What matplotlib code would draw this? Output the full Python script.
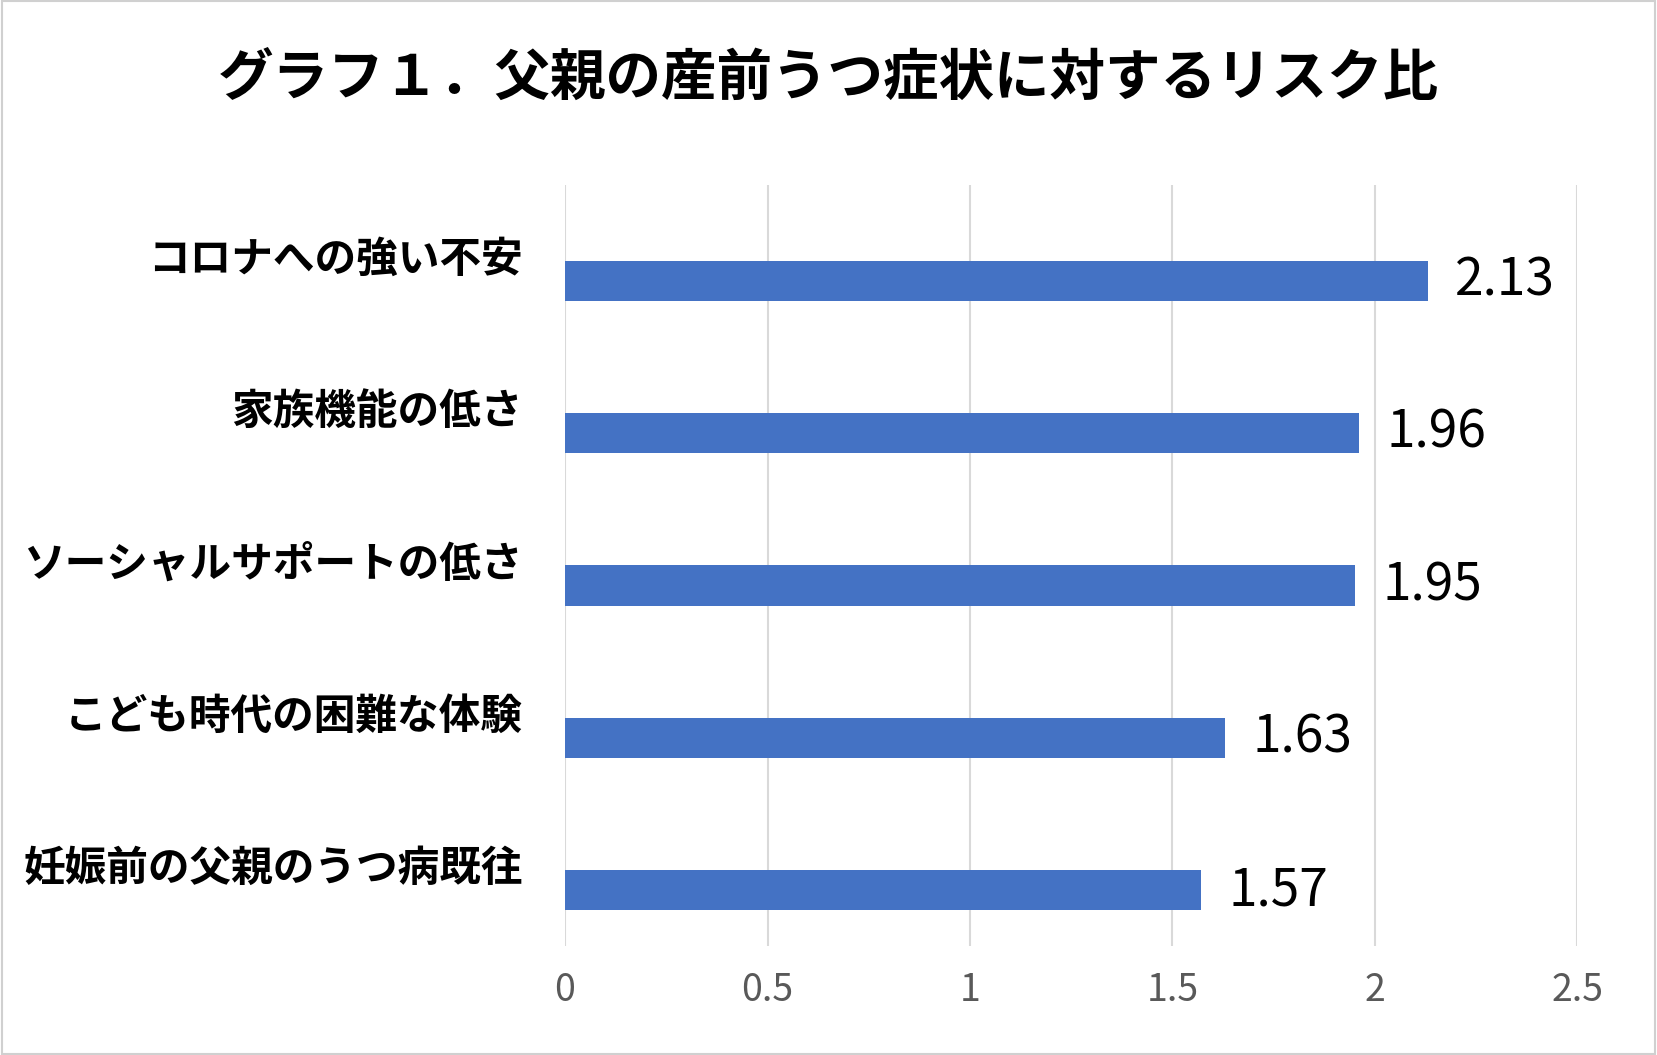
import matplotlib
matplotlib.use("Agg")
import matplotlib.pyplot as plt
from matplotlib.patches import Rectangle

plt.rcParams['font.family'] = ['Noto Sans CJK JP', 'DejaVu Sans']

categories = ["コロナへの強い不安", "家族機能の低さ", "ソーシャルサポートの低さ", "こども時代の困難な体験", "妊娠前の父親のうつ病既往"]
values = [2.13, 1.96, 1.95, 1.63, 1.57]
ticks = [0, 0.5, 1, 1.5, 2, 2.5]
tick_labels = ["0", "0.5", "1", "1.5", "2", "2.5"]
title = "グラフ１．父親の産前うつ症状に対するリスク比"

fig = plt.figure(figsize=(16.57, 10.55), dpi=100)
fig.patches.append(Rectangle((0.001, 0.001), 0.998, 0.998, transform=fig.transFigure,
                             fill=False, edgecolor="#d0d0d0", linewidth=1.5))
ax = fig.add_axes([0.341, 0.103, 0.611, 0.722])
ys = list(range(len(categories)))
ax.barh(ys, values, height=0.264, color="#4472C4", zorder=3)
ax.set_xlim(0, 2.5)
ax.set_ylim(4.368, -0.632)
ax.set_xticks(ticks)
ax.set_xticklabels(tick_labels, fontsize=27, color="#595959")
ax.set_yticks([])
ax.tick_params(axis='x', length=0, pad=18)
ax.grid(axis='x', color="#d9d9d9", linewidth=1.5, zorder=0)
for s in ax.spines.values():
    s.set_visible(False)
for y, c, v in zip(ys, categories, values):
    ax.text(-0.042, y - 0.14, c, transform=ax.get_yaxis_transform(), ha='right', va='center',
            fontsize=30, fontweight='bold')
    ax.annotate(f"{v:.2f}", (v, y), xytext=(20, 0), textcoords='offset points',
                ha='left', va='center', fontsize=37)
fig.text(0.5, 0.925, title, ha='center', va='center', fontsize=40, fontweight='bold')
fig.savefig("out.png", dpi=100)
